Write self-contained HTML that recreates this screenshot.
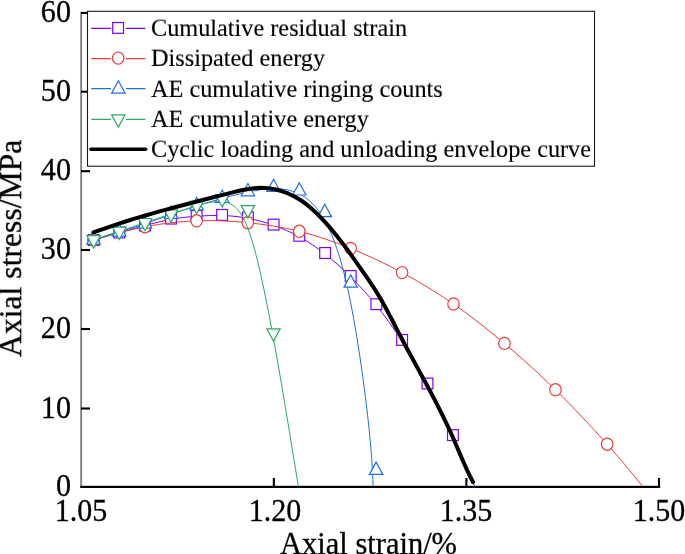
<!DOCTYPE html>
<html><head><meta charset="utf-8"><title>chart</title><style>
html,body{margin:0;padding:0;background:#fff;}
#c{position:relative;width:685px;height:554px;overflow:hidden;background:#fff;font-family:"Liberation Serif",serif;color:#000;}
.t{-webkit-text-stroke:0.3px #000;will-change:transform;position:absolute;white-space:nowrap;line-height:1;transform-origin:0 83.75%;}
</style></head><body><div id="c">
<svg width="685" height="554" viewBox="0 0 685 554" style="position:absolute;left:0;top:0">
<rect x="0" y="0" width="685" height="554" fill="#fff"/>
<rect x="80.2" y="12" width="1.9" height="476" fill="#808080"/>
<rect x="81.0" y="407.45" width="9.0" height="2.1" fill="#000"/>
<rect x="81.0" y="327.95" width="9.0" height="2.1" fill="#000"/>
<rect x="81.0" y="248.95" width="9.0" height="2.1" fill="#000"/>
<rect x="81.0" y="170.15" width="9.0" height="2.1" fill="#000"/>
<rect x="81.0" y="90.65" width="9.0" height="2.1" fill="#000"/>
<rect x="81.0" y="11.90" width="9.0" height="2.1" fill="#000"/>
<rect x="80.3" y="485.8" width="579.8" height="2.2" fill="#000"/>
<rect x="272.80" y="478" width="2.1" height="9" fill="#000"/>
<rect x="465.36" y="478" width="2.1" height="9" fill="#000"/>
<rect x="657.91" y="478" width="2.1" height="9" fill="#000"/>
<defs><clipPath id="cp"><rect x="81" y="0" width="600" height="486.6"/></clipPath></defs>
<g clip-path="url(#cp)" fill="none">
<path d="M93.60 240.00 C102.17 237.50 110.73 235.00 119.30 232.58 C127.87 230.17 136.43 227.83 145.05 225.52 C153.67 223.20 162.33 220.90 170.93 219.32 C179.53 217.73 188.07 216.87 196.58 216.25 C205.10 215.63 213.60 215.27 222.15 215.52 C230.70 215.77 239.30 216.63 247.88 218.25 C256.47 219.87 265.03 222.23 273.60 225.28 C282.17 228.33 290.73 232.07 299.32 236.80 C307.90 241.53 316.50 247.27 325.07 253.97 C333.63 260.67 342.17 268.33 350.72 276.87 C359.27 285.40 367.83 294.80 376.40 305.45 C384.97 316.10 393.53 328.00 402.05 341.22 C410.57 354.43 419.03 368.97 427.50 384.83 C435.97 400.70 444.43 417.90 452.37 435.23 C460.30 452.57 467.70 470.03 475.10 487.50" stroke="#7F00FF" stroke-width="1.00"/>
<rect x="88.20" y="234.60" width="10.80" height="10.80" fill="#fff" stroke="#7F00FF" stroke-width="1.20"/>
<rect x="113.90" y="227.10" width="10.80" height="10.80" fill="#fff" stroke="#7F00FF" stroke-width="1.20"/>
<rect x="139.60" y="220.10" width="10.80" height="10.80" fill="#fff" stroke="#7F00FF" stroke-width="1.20"/>
<rect x="165.60" y="213.20" width="10.80" height="10.80" fill="#fff" stroke="#7F00FF" stroke-width="1.20"/>
<rect x="191.20" y="210.60" width="10.80" height="10.80" fill="#fff" stroke="#7F00FF" stroke-width="1.20"/>
<rect x="216.70" y="209.50" width="10.80" height="10.80" fill="#fff" stroke="#7F00FF" stroke-width="1.20"/>
<rect x="242.50" y="212.10" width="10.80" height="10.80" fill="#fff" stroke="#7F00FF" stroke-width="1.20"/>
<rect x="268.20" y="219.20" width="10.80" height="10.80" fill="#fff" stroke="#7F00FF" stroke-width="1.20"/>
<rect x="293.90" y="230.40" width="10.80" height="10.80" fill="#fff" stroke="#7F00FF" stroke-width="1.20"/>
<rect x="319.70" y="247.60" width="10.80" height="10.80" fill="#fff" stroke="#7F00FF" stroke-width="1.20"/>
<rect x="345.30" y="270.60" width="10.80" height="10.80" fill="#fff" stroke="#7F00FF" stroke-width="1.20"/>
<rect x="371.00" y="298.80" width="10.80" height="10.80" fill="#fff" stroke="#7F00FF" stroke-width="1.20"/>
<rect x="396.70" y="334.50" width="10.80" height="10.80" fill="#fff" stroke="#7F00FF" stroke-width="1.20"/>
<rect x="422.10" y="378.10" width="10.80" height="10.80" fill="#fff" stroke="#7F00FF" stroke-width="1.20"/>
<rect x="447.50" y="429.70" width="10.80" height="10.80" fill="#fff" stroke="#7F00FF" stroke-width="1.20"/>
<path d="M93.60 240.00 C102.17 237.78 127.83 229.90 145.00 226.70 C162.17 223.50 179.47 221.47 196.60 220.80 C213.73 220.13 230.68 220.95 247.80 222.70 C264.92 224.45 282.15 227.02 299.30 231.30 C316.45 235.58 333.57 241.52 350.70 248.40 C367.83 255.28 384.97 263.33 402.10 272.60 C419.23 281.87 436.45 292.20 453.50 304.00 C470.55 315.80 487.40 329.10 504.40 343.40 C521.40 357.70 538.37 373.00 555.50 389.80 C572.63 406.60 592.52 427.92 607.20 444.20 C621.88 460.48 637.53 480.28 643.60 487.50" stroke="#EE3A3A" stroke-width="1.00"/>
<ellipse cx="93.60" cy="240.00" rx="5.75" ry="6.10" fill="#fff" stroke="#EE3A3A" stroke-width="1.20"/>
<ellipse cx="145.00" cy="226.70" rx="5.75" ry="6.10" fill="#fff" stroke="#EE3A3A" stroke-width="1.20"/>
<ellipse cx="196.60" cy="220.80" rx="5.75" ry="6.10" fill="#fff" stroke="#EE3A3A" stroke-width="1.20"/>
<ellipse cx="247.80" cy="222.70" rx="5.75" ry="6.10" fill="#fff" stroke="#EE3A3A" stroke-width="1.20"/>
<ellipse cx="299.30" cy="231.30" rx="5.75" ry="6.10" fill="#fff" stroke="#EE3A3A" stroke-width="1.20"/>
<ellipse cx="350.70" cy="248.40" rx="5.75" ry="6.10" fill="#fff" stroke="#EE3A3A" stroke-width="1.20"/>
<ellipse cx="402.10" cy="272.60" rx="5.75" ry="6.10" fill="#fff" stroke="#EE3A3A" stroke-width="1.20"/>
<ellipse cx="453.50" cy="304.00" rx="5.75" ry="6.10" fill="#fff" stroke="#EE3A3A" stroke-width="1.20"/>
<ellipse cx="504.40" cy="343.40" rx="5.75" ry="6.10" fill="#fff" stroke="#EE3A3A" stroke-width="1.20"/>
<ellipse cx="555.50" cy="389.80" rx="5.75" ry="6.10" fill="#fff" stroke="#EE3A3A" stroke-width="1.20"/>
<ellipse cx="607.20" cy="444.20" rx="5.75" ry="6.10" fill="#fff" stroke="#EE3A3A" stroke-width="1.20"/>
<path d="M93.60 240.00 C102.17 237.33 110.73 234.67 119.30 232.00 C127.87 229.33 136.43 226.67 145.05 223.72 C153.67 220.77 162.33 217.53 170.93 214.48 C179.53 211.43 188.07 208.57 196.62 205.88 C205.17 203.20 213.73 200.70 222.28 198.37 C230.83 196.03 239.37 193.87 247.92 192.07 C256.47 190.27 265.03 188.83 273.60 188.70 C282.17 188.57 290.73 189.73 299.27 193.92 C307.80 198.10 316.30 205.30 324.87 220.67 C333.43 236.03 342.07 259.57 350.62 302.53 C359.17 345.50 367.63 407.90 371.10 450.72 C374.57 493.53 373.03 516.77 371.50 540.00" stroke="#1F6FE0" stroke-width="1.00"/>
<path d="M93.60 231.80 L100.30 244.10 L86.90 244.10 Z" fill="#fff" stroke="#1F6FE0" stroke-width="1.20" stroke-linejoin="miter"/>
<path d="M119.30 223.80 L126.00 236.10 L112.60 236.10 Z" fill="#fff" stroke="#1F6FE0" stroke-width="1.20" stroke-linejoin="miter"/>
<path d="M145.00 215.80 L151.70 228.10 L138.30 228.10 Z" fill="#fff" stroke="#1F6FE0" stroke-width="1.20" stroke-linejoin="miter"/>
<path d="M171.00 206.10 L177.70 218.40 L164.30 218.40 Z" fill="#fff" stroke="#1F6FE0" stroke-width="1.20" stroke-linejoin="miter"/>
<path d="M196.60 197.50 L203.30 209.80 L189.90 209.80 Z" fill="#fff" stroke="#1F6FE0" stroke-width="1.20" stroke-linejoin="miter"/>
<path d="M222.30 190.00 L229.00 202.30 L215.60 202.30 Z" fill="#fff" stroke="#1F6FE0" stroke-width="1.20" stroke-linejoin="miter"/>
<path d="M247.90 183.50 L254.60 195.80 L241.20 195.80 Z" fill="#fff" stroke="#1F6FE0" stroke-width="1.20" stroke-linejoin="miter"/>
<path d="M273.60 179.20 L280.30 191.50 L266.90 191.50 Z" fill="#fff" stroke="#1F6FE0" stroke-width="1.20" stroke-linejoin="miter"/>
<path d="M299.30 182.70 L306.00 195.00 L292.60 195.00 Z" fill="#fff" stroke="#1F6FE0" stroke-width="1.20" stroke-linejoin="miter"/>
<path d="M324.80 204.30 L331.50 216.60 L318.10 216.60 Z" fill="#fff" stroke="#1F6FE0" stroke-width="1.20" stroke-linejoin="miter"/>
<path d="M350.70 274.90 L357.40 287.20 L344.00 287.20 Z" fill="#fff" stroke="#1F6FE0" stroke-width="1.20" stroke-linejoin="miter"/>
<path d="M376.10 462.10 L382.80 474.40 L369.40 474.40 Z" fill="#fff" stroke="#1F6FE0" stroke-width="1.20" stroke-linejoin="miter"/>
<path d="M93.60 239.70 C102.17 236.90 110.73 234.10 119.30 231.25 C127.87 228.40 136.43 225.50 145.05 222.62 C153.67 219.73 162.33 216.87 170.93 214.02 C179.53 211.17 188.07 208.33 196.62 205.78 C205.17 203.23 213.73 200.97 222.28 201.67 C230.83 202.37 239.37 206.03 247.90 228.40 C256.43 250.77 264.97 291.83 273.42 338.22 C281.87 384.60 290.23 436.30 298.60 488.00" stroke="#2AAA64" stroke-width="1.00"/>
<path d="M93.60 247.90 L100.30 235.60 L86.90 235.60 Z" fill="#fff" stroke="#2AAA64" stroke-width="1.20" stroke-linejoin="miter"/>
<path d="M119.30 239.50 L126.00 227.20 L112.60 227.20 Z" fill="#fff" stroke="#2AAA64" stroke-width="1.20" stroke-linejoin="miter"/>
<path d="M145.00 230.80 L151.70 218.50 L138.30 218.50 Z" fill="#fff" stroke="#2AAA64" stroke-width="1.20" stroke-linejoin="miter"/>
<path d="M171.00 222.20 L177.70 209.90 L164.30 209.90 Z" fill="#fff" stroke="#2AAA64" stroke-width="1.20" stroke-linejoin="miter"/>
<path d="M196.60 213.70 L203.30 201.40 L189.90 201.40 Z" fill="#fff" stroke="#2AAA64" stroke-width="1.20" stroke-linejoin="miter"/>
<path d="M222.30 206.90 L229.00 194.60 L215.60 194.60 Z" fill="#fff" stroke="#2AAA64" stroke-width="1.20" stroke-linejoin="miter"/>
<path d="M247.90 217.90 L254.60 205.60 L241.20 205.60 Z" fill="#fff" stroke="#2AAA64" stroke-width="1.20" stroke-linejoin="miter"/>
<path d="M273.50 341.10 L280.20 328.80 L266.80 328.80 Z" fill="#fff" stroke="#2AAA64" stroke-width="1.20" stroke-linejoin="miter"/>
<path d="M93.40 232.45 L99.96 230.08 L106.53 227.78 L113.11 225.54 L119.71 223.37 L126.32 221.26 L132.95 219.20 L139.59 217.19 L146.24 215.22 L152.90 213.30 L159.57 211.42 L166.25 209.58 L172.94 207.76 L179.65 205.97 L186.36 204.21 L193.08 202.46 L199.81 200.73 L206.55 199.01 L213.29 197.30 L220.04 195.59 L226.80 193.88 L233.57 192.18 L240.34 190.55 L247.14 189.18 L253.97 188.23 L260.85 187.86 L267.76 188.21 L274.65 189.29 L281.43 191.05 L288.03 193.45 L294.37 196.44 L300.39 199.98 L306.06 204.00 L311.38 208.43 L316.45 213.15 L321.32 218.07 L326.03 223.15 L330.60 228.36 L335.04 233.69 L339.37 239.13 L343.60 244.65 L347.74 250.24 L351.82 255.89 L355.84 261.58 L359.83 267.28 L363.80 273.00 L367.73 278.72 L371.61 284.47 L375.39 290.27 L379.05 296.15 L382.56 302.13 L385.91 308.20 L389.15 314.33 L392.33 320.51 L395.49 326.71 L398.68 332.89 L401.91 339.05 L405.17 345.19 L408.47 351.31 L411.78 357.41 L415.11 363.51 L418.44 369.61 L421.77 375.71 L425.09 381.81 L428.38 387.92 L431.65 394.04 L434.87 400.19 L438.06 406.35 L441.19 412.55 L444.25 418.77 L447.25 425.03 L450.17 431.33 L453.00 437.68 L455.76 444.06 L458.48 450.46 L461.21 456.86 L463.98 463.24 L466.85 469.57 L469.83 475.83 L472.99 482.00" stroke="#000" stroke-width="4" stroke-linecap="round" stroke-linejoin="round"/>
</g>
<rect x="87.5" y="11.3" width="507" height="154.9" fill="#fff" stroke="#1a1a1a" stroke-width="1.1"/>
<path d="M91.2 28.40H110.9M125.9 28.40H145.4" stroke="#7F00FF" stroke-width="1.15" fill="none"/>
<path d="M91.2 58.60H110.9M125.9 58.60H145.4" stroke="#EE3A3A" stroke-width="1.15" fill="none"/>
<path d="M91.2 88.60H110.9M125.9 88.60H145.4" stroke="#1F6FE0" stroke-width="1.15" fill="none"/>
<path d="M91.2 119.30H110.9M125.9 119.30H145.4" stroke="#2AAA64" stroke-width="1.15" fill="none"/>
<rect x="112.70" y="22.50" width="10.80" height="10.80" fill="#fff" stroke="#7F00FF" stroke-width="1.20"/>
<ellipse cx="118.20" cy="58.10" rx="5.75" ry="6.10" fill="#fff" stroke="#EE3A3A" stroke-width="1.20"/>
<path d="M118.40 80.80 L125.10 93.10 L111.70 93.10 Z" fill="#fff" stroke="#1F6FE0" stroke-width="1.20" stroke-linejoin="miter"/>
<path d="M118.30 127.10 L125.00 114.80 L111.60 114.80 Z" fill="#fff" stroke="#2AAA64" stroke-width="1.20" stroke-linejoin="miter"/>
<path d="M91 149.2H145.6" stroke="#000" stroke-width="3.6" stroke-linecap="round"/>
</svg>
<div class="t" style="font-size:24.28px;top:15.67px;left:150.50px;transform:scaleY(0.965);-webkit-text-stroke-width:0.15px;">Cumulative residual strain</div>
<div class="t" style="font-size:24.28px;top:45.97px;left:150.50px;transform:scaleY(0.965);-webkit-text-stroke-width:0.15px;">Dissipated energy</div>
<div class="t" style="font-size:24.28px;top:76.57px;left:150.50px;transform:scaleY(0.965);-webkit-text-stroke-width:0.15px;">AE cumulative ringing counts</div>
<div class="t" style="font-size:24.28px;top:106.67px;left:150.50px;transform:scaleY(0.965);-webkit-text-stroke-width:0.15px;">AE cumulative energy</div>
<div class="t" style="font-size:24.28px;top:137.17px;left:150.50px;transform:scaleY(0.965);-webkit-text-stroke-width:0.15px;">Cyclic loading and unloading envelope curve</div>
<div class="t" style="font-size:30.20px;top:471.11px;left:11.40px;width:60.00px;text-align:right;transform:scaleY(1.040);">0</div>
<div class="t" style="font-size:30.20px;top:392.61px;left:11.40px;width:60.00px;text-align:right;transform:scaleY(1.040);">10</div>
<div class="t" style="font-size:30.20px;top:313.11px;left:11.40px;width:60.00px;text-align:right;transform:scaleY(1.040);">20</div>
<div class="t" style="font-size:30.20px;top:234.11px;left:11.40px;width:60.00px;text-align:right;transform:scaleY(1.040);">30</div>
<div class="t" style="font-size:30.20px;top:155.31px;left:11.40px;width:60.00px;text-align:right;transform:scaleY(1.040);">40</div>
<div class="t" style="font-size:30.20px;top:75.81px;left:11.40px;width:60.00px;text-align:right;transform:scaleY(1.040);">50</div>
<div class="t" style="font-size:30.20px;top:-3.39px;left:11.40px;width:60.00px;text-align:right;transform:scaleY(1.040);">60</div>
<div class="t" style="font-size:30.00px;top:495.77px;left:41.20px;width:80.00px;text-align:center;transform:scaleY(1.020);">1.05</div>
<div class="t" style="font-size:30.00px;top:495.77px;left:234.55px;width:80.00px;text-align:center;transform:scaleY(1.020);">1.20</div>
<div class="t" style="font-size:30.00px;top:495.77px;left:425.51px;width:80.00px;text-align:center;transform:scaleY(1.020);">1.35</div>
<div class="t" style="font-size:30.00px;top:495.77px;left:619.16px;width:80.00px;text-align:center;transform:scaleY(1.020);">1.50</div>
<div class="t" style="font-size:30.50px;top:529.46px;left:280.40px;transform:scaleY(1.010);">Axial strain/%</div>
<div class="t" style="font-size:31.7px;left:0;top:0;transform-origin:0 0;transform:translate(-4.9px,357.1px) rotate(-90deg)">Axial stress/MPa</div>
</div></body></html>
